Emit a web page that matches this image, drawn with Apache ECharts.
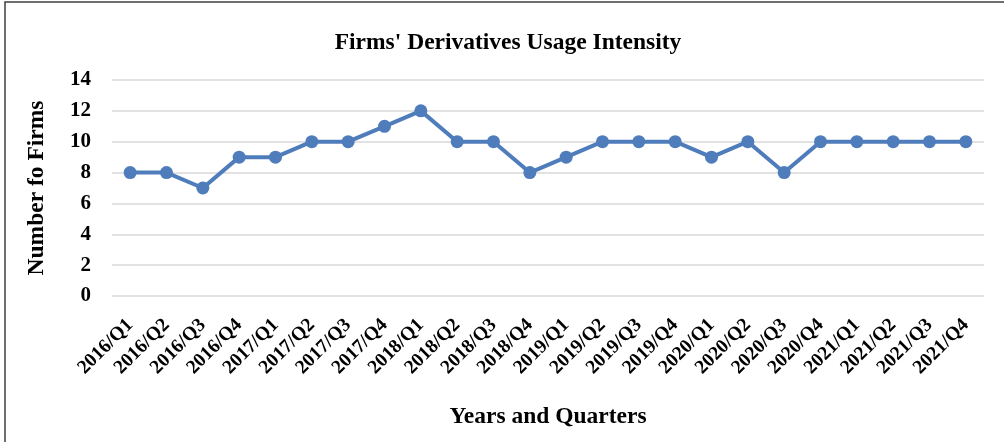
<!DOCTYPE html>
<html>
<head>
<meta charset="utf-8">
<script src="https://cdn.jsdelivr.net/npm/echarts@6/dist/echarts.min.js"></script>
<style>html,body{margin:0;padding:0;background:#fff}#c{width:1004px;height:442px}</style>
</head>
<body>
<div id="c"></div>
<script>
const categories = ['2016/Q1','2016/Q2','2016/Q3','2016/Q4','2017/Q1','2017/Q2','2017/Q3','2017/Q4','2018/Q1','2018/Q2','2018/Q3','2018/Q4','2019/Q1','2019/Q2','2019/Q3','2019/Q4','2020/Q1','2020/Q2','2020/Q3','2020/Q4','2021/Q1','2021/Q2','2021/Q3','2021/Q4'];
const firmCounts = [8,8,7,9,9,10,10,11,12,10,10,8,9,10,10,10,9,10,8,10,10,10,10,10];
const yTicks = [0,2,4,6,8,10,12,14];

const FONT = "'Liberation Serif','Times New Roman',serif";
const chart = echarts.init(document.getElementById('c'), null, {renderer:'canvas'});
chart.setOption({
  animation:false,
  backgroundColor:'#fff',
  graphic:[{type:'rect', shape:{x:5,y:2,width:1020,height:460}, style:{fill:'none', stroke:'#404040', lineWidth:1.5}, silent:true}],
  title:{text:"Firms' Derivatives Usage Intensity", left:503, top:26, textAlign:'center',
    textStyle:{fontFamily:FONT, fontWeight:'bold', fontSize:23.5, color:'#000'}},
  grid:{left:112, right:20, top:80, bottom:146, containLabel:false},
  xAxis:{type:'category', data:categories, boundaryGap:true,
    name:'Years and Quarters', nameLocation:'middle', nameGap:109,
    nameTextStyle:{fontFamily:FONT, fontWeight:'bold', fontSize:23.5, color:'#000'},
    axisLine:{show:false}, axisTick:{show:false},
    axisLabel:{rotate:45, interval:0, margin:26, fontFamily:FONT, fontWeight:'bold', fontSize:19.5, color:'#000'}},
  yAxis:{type:'value', min:yTicks[0], max:yTicks[yTicks.length-1], interval:2,
    name:'Number fo Firms', nameLocation:'middle', nameGap:63, nameRotate:90,
    nameTextStyle:{fontFamily:FONT, fontWeight:'bold', fontSize:23.5, color:'#000'},
    axisLine:{show:false}, axisTick:{show:false},
    axisLabel:{margin:21, fontFamily:FONT, fontWeight:'bold', fontSize:21, color:'#000'},
    splitLine:{lineStyle:{color:'#d9d9d9', width:1.5}}},
  series:[{type:'line', data:firmCounts, symbol:'circle', symbolSize:13,
    lineStyle:{color:'#4F7DBB', width:4}, itemStyle:{color:'#4F7DBB'}}]
});
</script>
</body>
</html>
